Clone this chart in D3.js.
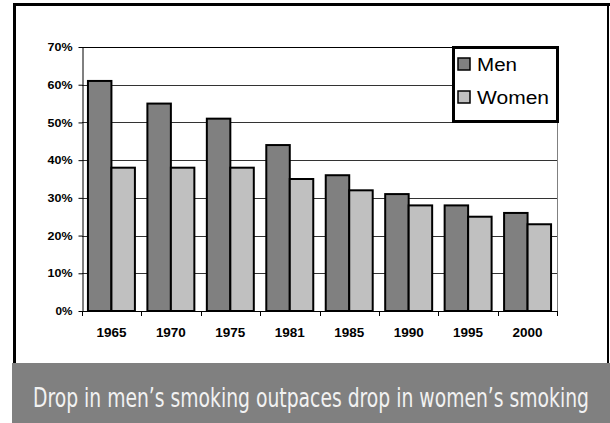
<!DOCTYPE html>
<html>
<head>
<meta charset="utf-8">
<script src="https://cdn.jsdelivr.net/npm/d3@7"></script>
<style>
  body { margin: 0; background: #fff; }
  svg { display: block; }
</style>
</head>
<body>
<svg id="chart"></svg>
<script>
  // data
  const years = ["1965", "1970", "1975", "1981", "1985", "1990", "1995", "2000"];
  const men = [61, 55, 51, 44, 36, 31, 28, 26];
  const women = [38, 38, 38, 35, 32, 28, 25, 23];
  const seriesNames = ["Men", "Women"];
  const yTicks = [0, 10, 20, 30, 40, 50, 60, 70];
  const caption = "Drop in men\u2019s smoking outpaces drop in women\u2019s smoking";

  const W = 610, H = 423;
  const margin = { left: 82, top: 47, right: 53, bottom: 112 };
  const colors = { Men: "#808080", Women: "#c0c0c0" };
  const arial = "'Liberation Sans', Arial, sans-serif";

  const svg = d3.select("#chart").attr("width", W).attr("height", H);

  // outer frame
  svg.append("rect").attr("x", 13).attr("y", 3).attr("width", 3).attr("height", 361).attr("fill", "#000");
  svg.append("rect").attr("x", 13).attr("y", 3).attr("width", 597).attr("height", 3).attr("fill", "#000");
  svg.append("rect").attr("x", 607).attr("y", 3).attr("width", 2).attr("height", 361).attr("fill", "#000");

  const x = d3.scaleBand().domain(years).range([margin.left, W - margin.right]).paddingInner(0.21).paddingOuter(0.1);
  const xs = d3.scaleBand().domain(seriesNames).range([0, x.bandwidth()]);
  const y = d3.scaleLinear().domain([0, 70]).range([H - margin.bottom, margin.top]);

  const g = svg.append("g");

  // gridlines
  g.selectAll(".grid").data(yTicks.slice(1)).enter().append("line")
    .attr("x1", margin.left).attr("x2", W - margin.right)
    .attr("y1", d => Math.round(y(d)) + 0.5).attr("y2", d => Math.round(y(d)) + 0.5)
    .attr("stroke", d => d === 70 ? "#000" : "#333").attr("stroke-width", 1);
  // plot right border
  g.append("line").attr("x1", W - margin.right + 0.5).attr("x2", W - margin.right + 0.5)
    .attr("y1", margin.top).attr("y2", H - margin.bottom)
    .attr("stroke", "#808080");

  // bars
  const rows = years.map((yr, i) => ({ year: yr, Men: men[i], Women: women[i] }));
  const grp = g.selectAll(".grp").data(rows).enter().append("g")
    .attr("transform", d => "translate(" + x(d.year) + ",0)");
  grp.selectAll("rect").data(d => seriesNames.map(k => ({ key: k, value: d[k] }))).enter().append("rect")
    .attr("x", d => xs(d.key))
    .attr("y", d => y(d.value))
    .attr("width", xs.bandwidth())
    .attr("height", d => y(0) - y(d.value))
    .attr("fill", d => colors[d.key])
    .attr("stroke", "#000").attr("stroke-width", 2);

  // y axis
  const yAxis = g.append("g").attr("transform", "translate(" + (margin.left + 0.5) + ",0)")
    .call(d3.axisLeft(y).tickValues(yTicks).tickFormat(d => d + "%").tickSize(4).tickSizeOuter(0));
  yAxis.select(".domain").attr("stroke", "#000");
  yAxis.selectAll("text").attr("font-family", arial)
    .attr("font-weight", "bold").attr("font-size", 11.5).attr("fill", "#000").attr("x", -10)
    .attr("textLength", d => d === 0 ? 17 : 25).attr("lengthAdjust", "spacingAndGlyphs");

  // x axis
  const xAxis = g.append("g").attr("transform", "translate(0," + (y(0) + 0.5) + ")")
    .call(d3.axisBottom(x).tickSize(0).tickSizeOuter(0));
  xAxis.select(".domain").attr("stroke", "#000").attr("d", "M" + margin.left + ",0H" + (W - margin.right));
  xAxis.selectAll("text").attr("font-family", arial)
    .attr("font-weight", "bold").attr("font-size", 13.5).attr("fill", "#000").attr("y", 16)
    .attr("textLength", 30).attr("lengthAdjust", "spacingAndGlyphs");
  // category separator ticks
  g.selectAll(".xtick").data(d3.range(years.length + 1)).enter().append("line")
    .attr("x1", i => Math.round(margin.left + i * (W - margin.left - margin.right) / years.length) + 0.5)
    .attr("x2", i => Math.round(margin.left + i * (W - margin.left - margin.right) / years.length) + 0.5)
    .attr("y1", y(0)).attr("y2", y(0) + 5)
    .attr("stroke", "#000");

  // legend
  const lg = svg.append("g").attr("transform", "translate(453.5,47.5)");
  lg.append("rect").attr("width", 104).attr("height", 74)
    .attr("fill", "#fff").attr("stroke", "#000").attr("stroke-width", 3);
  const legendW = { Men: 40, Women: 72 };
  seriesNames.forEach((n, i) => {
    lg.append("rect").attr("x", 4.5).attr("y", 10.5 + i * 33).attr("width", 12).attr("height", 12)
      .attr("fill", colors[n]).attr("stroke", "#000").attr("stroke-width", 1.5);
    lg.append("text").attr("x", 23.5).attr("y", 23 + i * 33)
      .attr("font-family", arial).attr("font-size", 17.5)
      .attr("textLength", legendW[n]).attr("lengthAdjust", "spacingAndGlyphs")
      .attr("fill", "#000").text(n);
  });

  // caption band
  svg.append("rect").attr("x", 12).attr("y", 363).attr("width", W - 12).attr("height", H - 363)
    .attr("fill", "#808080");
  svg.append("text").attr("transform", "translate(33,407) scale(1,1.4)")
    .attr("font-family", "'Liberation Sans Narrow', 'DejaVu Sans Condensed', sans-serif")
    .attr("font-size", 19).attr("fill", "#f2f2f2")
    .attr("textLength", 556).attr("lengthAdjust", "spacingAndGlyphs")
    .text(caption);
</script>
</body>
</html>
